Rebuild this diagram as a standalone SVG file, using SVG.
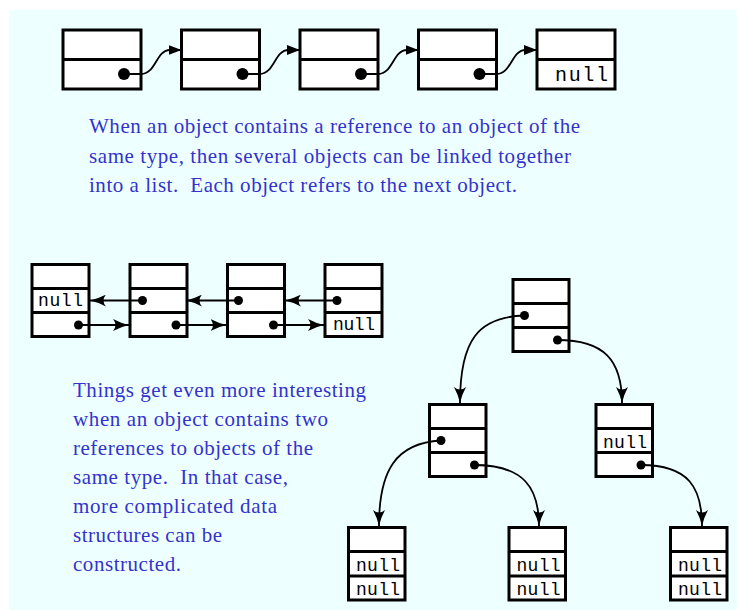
<svg xmlns="http://www.w3.org/2000/svg" width="737" height="611" viewBox="0 0 737 611">
<style>
.box{fill:#fff;stroke:#000;stroke-width:3}
.dv{stroke:#000;stroke-width:3}
.conn{fill:none;stroke:#000;stroke-width:1.8}
.dot{fill:#000}
.nl{font-family:"Liberation Mono",monospace;font-size:18px;fill:#000}
.nlb{font-family:"Liberation Mono",monospace;font-size:20px;fill:#000}
.para{font-family:"Liberation Serif","Times New Roman",serif;font-size:21px;fill:#3333cc;white-space:pre}
</style>
<defs>
<marker id="tri" viewBox="0 0 13 10" refX="13" refY="5" markerWidth="13" markerHeight="10" markerUnits="userSpaceOnUse" orient="auto"><path d="M0,0 L13,5 L0,10 Z" fill="#000"/></marker>
<marker id="barb" viewBox="0 0 16 12" refX="16" refY="6" markerWidth="16" markerHeight="12" markerUnits="userSpaceOnUse" orient="auto"><path d="M0,0 Q8,4.3 16,6 Q8,7.7 0,12 Q5,6 0,0 Z" fill="#000"/></marker>
</defs>
<rect x="9" y="10" width="728" height="600" fill="#eeffff"/>

<g id="singly">
<g id="s1"><rect class="box" x="63" y="30" width="78" height="59"/><line class="dv" x1="63" y1="59.5" x2="141" y2="59.5"/><circle class="dot" cx="124" cy="74" r="6"/></g>
<g id="s2"><rect class="box" x="181.5" y="30" width="78" height="59"/><line class="dv" x1="181.5" y1="59.5" x2="259.5" y2="59.5"/><circle class="dot" cx="242.5" cy="74" r="6"/></g>
<g id="s3"><rect class="box" x="300" y="30" width="78" height="59"/><line class="dv" x1="300" y1="59.5" x2="378" y2="59.5"/><circle class="dot" cx="361" cy="74" r="6"/></g>
<g id="s4"><rect class="box" x="418.5" y="30" width="78" height="59"/><line class="dv" x1="418.5" y1="59.5" x2="496.5" y2="59.5"/><circle class="dot" cx="479.5" cy="74" r="6"/></g>
<g id="s5"><rect class="box" x="537" y="30" width="78" height="59"/><line class="dv" x1="537" y1="59.5" x2="615" y2="59.5"/><text class="nlb" x="555" y="81" textLength="53" lengthAdjust="spacing">null</text></g>
</g>

<g id="doubly">
<g id="d1"><rect class="box" x="32" y="264.5" width="57" height="72"/><line class="dv" x1="32" y1="288.5" x2="89" y2="288.5"/><line class="dv" x1="32" y1="312.5" x2="89" y2="312.5"/><text class="nl" x="38" y="306" textLength="45" lengthAdjust="spacing">null</text><circle class="dot" cx="78.5" cy="325" r="4.5"/></g>
<g id="d2"><rect class="box" x="130" y="264.5" width="57" height="72"/><line class="dv" x1="130" y1="288.5" x2="187" y2="288.5"/><line class="dv" x1="130" y1="312.5" x2="187" y2="312.5"/><circle class="dot" cx="142.5" cy="300.5" r="4.5"/><circle class="dot" cx="176" cy="325" r="4.5"/></g>
<g id="d3"><rect class="box" x="227.5" y="264.5" width="57" height="72"/><line class="dv" x1="227.5" y1="288.5" x2="284.5" y2="288.5"/><line class="dv" x1="227.5" y1="312.5" x2="284.5" y2="312.5"/><circle class="dot" cx="238.5" cy="300.5" r="4.5"/><circle class="dot" cx="273.5" cy="325" r="4.5"/></g>
<g id="d4"><rect class="box" x="325" y="264.5" width="57" height="72"/><line class="dv" x1="325" y1="288.5" x2="382" y2="288.5"/><line class="dv" x1="325" y1="312.5" x2="382" y2="312.5"/><circle class="dot" cx="337" cy="300.5" r="4.5"/><text class="nl" x="333" y="330" textLength="42" lengthAdjust="spacing">null</text></g>
</g>

<g id="tree">
<g id="root"><rect class="box" x="513" y="279.5" width="56" height="72"/><line class="dv" x1="513" y1="303.5" x2="569" y2="303.5"/><line class="dv" x1="513" y1="327.5" x2="569" y2="327.5"/><circle class="dot" cx="524.5" cy="315.5" r="4.5"/><circle class="dot" cx="557.5" cy="340" r="4.5"/></g>
<g id="left"><rect class="box" x="429.5" y="404.5" width="56.5" height="72"/><line class="dv" x1="429.5" y1="428.5" x2="486" y2="428.5"/><line class="dv" x1="429.5" y1="452.5" x2="486" y2="452.5"/><circle class="dot" cx="441" cy="440.5" r="4.5"/><circle class="dot" cx="474.5" cy="465" r="4.5"/></g>
<g id="right"><rect class="box" x="596" y="404.5" width="56.5" height="72"/><line class="dv" x1="596" y1="428.5" x2="652.5" y2="428.5"/><line class="dv" x1="596" y1="452.5" x2="652.5" y2="452.5"/><text class="nl" x="603" y="448" textLength="44" lengthAdjust="spacing">null</text><circle class="dot" cx="641" cy="465" r="4.5"/></g>
<g id="leaf1"><rect class="box" x="348.5" y="527.5" width="56.5" height="72.5"/><line class="dv" x1="348.5" y1="551.5" x2="405" y2="551.5"/><line class="dv" x1="348.5" y1="576" x2="405" y2="576"/><text class="nl" x="356" y="570.5" textLength="44" lengthAdjust="spacing">null</text><text class="nl" x="356" y="594.5" textLength="44" lengthAdjust="spacing">null</text></g>
<g id="leaf2"><rect class="box" x="509" y="527.5" width="56.5" height="72.5"/><line class="dv" x1="509" y1="551.5" x2="565.5" y2="551.5"/><line class="dv" x1="509" y1="576" x2="565.5" y2="576"/><text class="nl" x="516.5" y="570.5" textLength="44" lengthAdjust="spacing">null</text><text class="nl" x="516.5" y="594.5" textLength="44" lengthAdjust="spacing">null</text></g>
<g id="leaf3"><rect class="box" x="670.5" y="527.5" width="56.5" height="72.5"/><line class="dv" x1="670.5" y1="551.5" x2="727" y2="551.5"/><line class="dv" x1="670.5" y1="576" x2="727" y2="576"/><text class="nl" x="678" y="570.5" textLength="44" lengthAdjust="spacing">null</text><text class="nl" x="678" y="594.5" textLength="44" lengthAdjust="spacing">null</text></g>
</g>

<g id="connectors">
<path class="conn" marker-end="url(#tri)" d="M124,74 L141,74 C156,74 156,50 170,50 L181.5,50"/>
<path class="conn" marker-end="url(#tri)" d="M242.5,74 L259.5,74 C274.5,74 274.5,50 288.5,50 L300,50"/>
<path class="conn" marker-end="url(#tri)" d="M361,74 L378,74 C393,74 393,50 407,50 L418.5,50"/>
<path class="conn" marker-end="url(#tri)" d="M479.5,74 L496.5,74 C511.5,74 511.5,50 525.5,50 L537,50"/>

<path class="conn" marker-end="url(#barb)" d="M142.5,300.5 L90,300.5"/>
<path class="conn" marker-end="url(#barb)" d="M238.5,300.5 L186,300.5"/>
<path class="conn" marker-end="url(#barb)" d="M337,300.5 L285,300.5"/>
<path class="conn" marker-end="url(#barb)" d="M78.5,325 L129,325"/>
<path class="conn" marker-end="url(#barb)" d="M176,325 L226.5,325"/>
<path class="conn" marker-end="url(#barb)" d="M273.5,325 L324,325"/>

<path class="conn" marker-end="url(#barb)" d="M524.5,315.5 C478,317 460,340 460,403"/>
<path class="conn" marker-end="url(#barb)" d="M557.5,340 C604,340 622,360 622,403"/>
<path class="conn" marker-end="url(#barb)" d="M441,440.5 C396,443 379,470 379,526"/>
<path class="conn" marker-end="url(#barb)" d="M474.5,465 C524,465 539,488 539,526"/>
<path class="conn" marker-end="url(#barb)" d="M641,465 C689,465 702,488 702,526"/>
</g>

<g id="text1">
<text class="para" x="89" y="133" textLength="491" lengthAdjust="spacing">When an object contains a reference to an object of the</text>
<text class="para" x="89" y="162.5" textLength="482" lengthAdjust="spacing">same type, then several objects can be linked together</text>
<text class="para" x="89" y="192" textLength="428" lengthAdjust="spacing">into a list.  Each object refers to the next object.</text>
</g>
<g id="text2">
<text class="para" x="73" y="397" textLength="293" lengthAdjust="spacing">Things get even more interesting</text>
<text class="para" x="73" y="426" textLength="255" lengthAdjust="spacing">when an object contains two</text>
<text class="para" x="73" y="455" textLength="240" lengthAdjust="spacing">references to objects of the</text>
<text class="para" x="73" y="484" textLength="215" lengthAdjust="spacing">same type.  In that case,</text>
<text class="para" x="73" y="513" textLength="204" lengthAdjust="spacing">more complicated data</text>
<text class="para" x="73" y="542" textLength="149" lengthAdjust="spacing">structures can be</text>
<text class="para" x="73" y="570.5" textLength="108" lengthAdjust="spacing">constructed.</text>
</g>
</svg>
